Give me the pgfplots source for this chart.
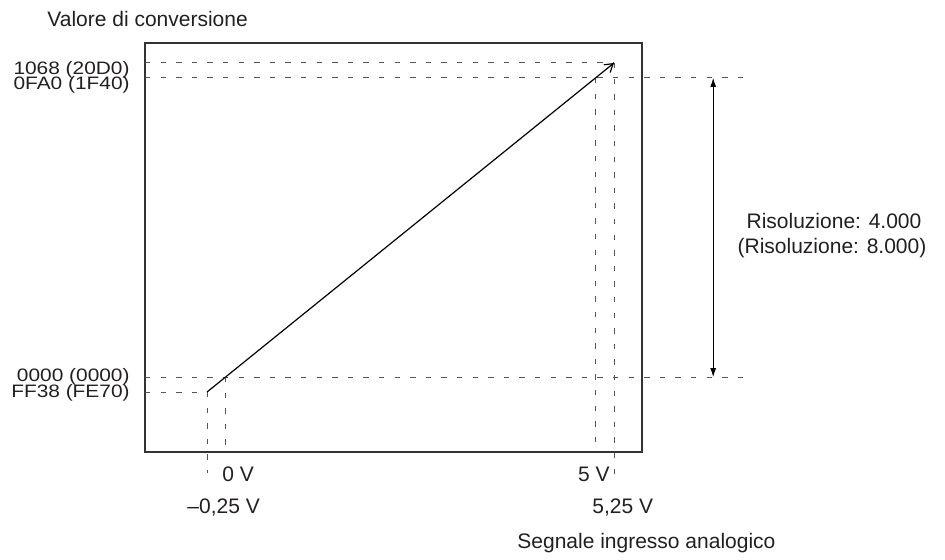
\documentclass[border=0pt]{standalone}
\usepackage{fontspec}
\setmainfont{Liberation Sans}
\newfontfamily\ylab[FakeStretch=1.16]{Liberation Sans}
\usepackage{pgfplots}
\pgfplotsset{compat=1.18}
\usetikzlibrary{arrows.meta}
\definecolor{txt}{HTML}{231F20}
\definecolor{dashc}{HTML}{555555}
\newcommand\fsz{\fontsize{10.5}{12.6}\selectfont}
\begin{document}
\begin{tikzpicture}[font=\fsz, text=txt]
\tikzset{guide/.style={dashc, line width=0.5pt, dash pattern=on 2.7pt off 5.1pt}}
\useasboundingbox (0,0) rectangle (472.5pt,279.5pt);
\begin{axis}[
  at={(72.5pt,53.5pt)}, anchor=south west,
  scale only axis, width=248.5pt, height=204.5pt,
  xmin=-1.088, xmax=5.628, ymin=-1002, ymax=4467,
  clip=false,
  axis line style={black!80, line width=0.65pt},
  xtick=\empty,
  ytick={-200,0,4000,4200},
  yticklabels={\raisebox{-2.65pt}[0pt][0pt]{FF38 (FE70)},\raisebox{-2.35pt}[0pt][0pt]{0000 (0000)},\raisebox{-6pt}[0pt][0pt]{0FA0 (1F40)},\raisebox{-5.65pt}[0pt][0pt]{1068 (20D0)}},
  major tick length=0pt,
  tick label style={font=\ylab\fontsize{9}{10.8}\selectfont, text=txt},
  yticklabel style={anchor=base east, inner sep=0pt, xshift=-7.5pt},
]
\addplot[guide] coordinates {(-1.088,4200) (5.25,4200)};
\addplot[guide] coordinates {(-1.088,4000) (7.02,4000)};
\addplot[guide] coordinates {(-1.088,0) (7.02,0)};
\addplot[guide] coordinates {(-1.088,-200) (-0.25,-200)};
\addplot[guide] coordinates {(-0.25,-200) (-0.25,-1283)};
\addplot[guide] coordinates {(0,0) (0,-1002)};
\addplot[guide] coordinates {(5,4000) (5,-1002)};
\addplot[guide] coordinates {(5.25,4200) (5.25,-1377)};
\addplot[black, line width=0.6pt, -{Straight Barb[length=4pt,width=5pt]}] coordinates {(-0.25,-200) (5.25,4200)};
\addplot[black, line width=0.5pt, {Latex[length=4.5pt,width=3pt]}-{Latex[length=4.5pt,width=3pt]}] coordinates {(6.59,4000) (6.59,0)};
\end{axis}
\node[anchor=base west, inner sep=0] at (111pt,39pt) {0 V};
\node[anchor=base east, inner sep=0] at (305pt,39pt) {5 V};
\node[anchor=base west, inner sep=0] at (93.5pt,22.8pt) {\textendash0,25 V};
\node[anchor=base west, inner sep=0] at (296pt,22.8pt) {5,25 V};
\node[anchor=base west, inner sep=0] at (258.5pt,5.3pt) {Segnale ingresso analogico};
\node[anchor=base west, inner sep=0] at (23.5pt,266.2pt) {Valore di conversione};
\node[anchor=base, inner sep=0] at (417pt,165.3pt) {Risoluzione: 4.000};
\node[anchor=base, inner sep=0] at (416pt,152.8pt) {(Risoluzione: 8.000)};
\end{tikzpicture}
\end{document}
